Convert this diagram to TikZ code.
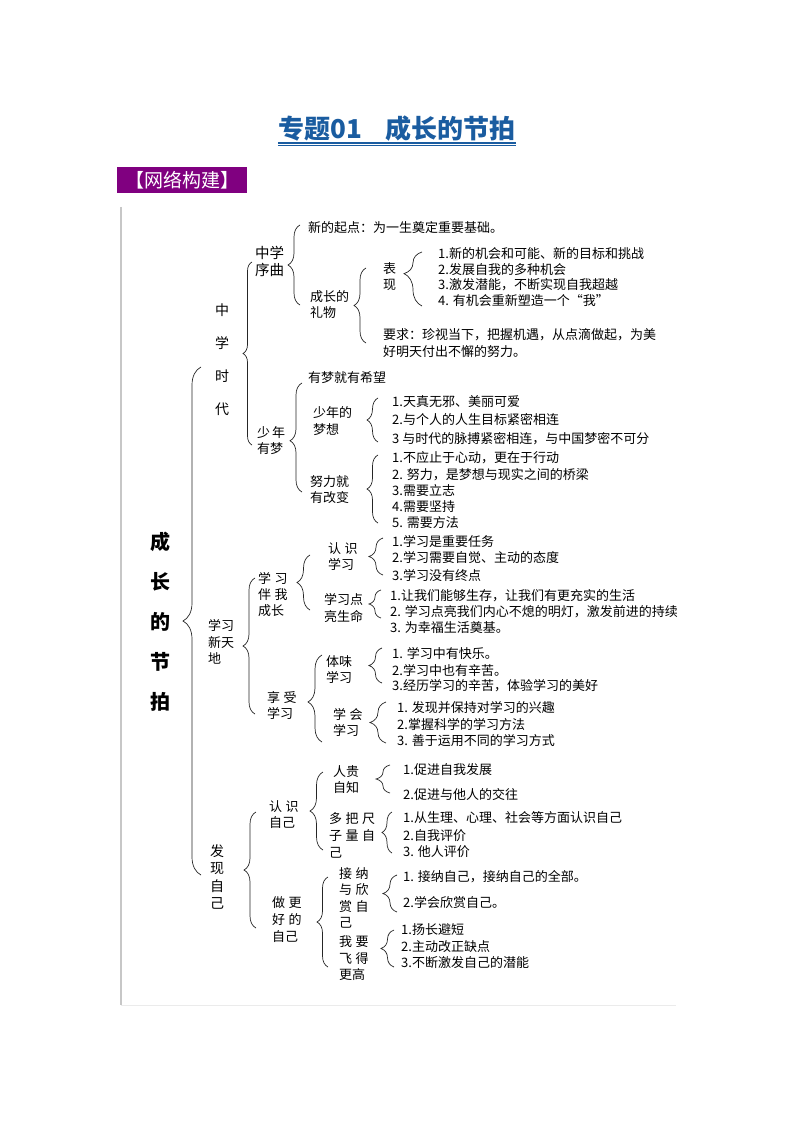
\documentclass[tikz,border=0pt]{standalone}
\usepackage{fontspec}
\setmainfont{Noto Sans CJK SC}
\usetikzlibrary{decorations.pathreplacing}
\definecolor{titleblue}{RGB}{26,92,160}
\definecolor{tagpurple}{RGB}{128,0,128}
\newcommand{\csp}{\hspace{3.5pt}}

\begin{document}
\begin{tikzpicture}[x=1pt, y=-1pt,
  curly/.style={decorate, decoration={brace, amplitude=#1}, line width=0.7pt, black!85},
  curly/.default=12,
  leaf/.style={anchor=west, inner sep=0pt, font=\fontsize{13}{15}\selectfont},
  lbl/.style={anchor=west, inner sep=0pt, align=left, font=\fontsize{13}{#1}\selectfont},
  lbl/.default=17,
  vlbl/.style={inner sep=0pt, align=center, font=\fontsize{14}{#1}\selectfont}]
  \useasboundingbox (0,0) rectangle (794,1123);

  % title and tag
  \node[inner sep=0pt, text=titleblue, font=\fontsize{26}{30}\selectfont\bfseries] (title) at (397,129) {专题01\hspace{24pt}成长的节拍};
  \draw[titleblue, line width=1.4pt] ([yshift=-4pt]title.base west) -- ([yshift=-4pt]title.base east);
  \draw[titleblue, line width=0.5pt] ([yshift=-6.5pt]title.base west) -- ([yshift=-6.5pt]title.base east);
  \node[anchor=north west, fill=tagpurple, text=white, minimum width=130pt, minimum height=26pt, inner sep=0pt, font=\fontsize{19}{22}\selectfont] (tag) at (117,167) {【网络构建】};

  % frame
  \draw[black!22, line width=1.5pt] (121,207) -- (121,1005);
  \draw[black!8, line width=0.8pt] (121,1005) -- (676,1005);

  % root
  \node[inner sep=0pt, align=center, font=\fontsize{20}{40}\selectfont\bfseries] (root) at (160,622) {成\\长\\的\\节\\拍};
  \draw[curly=18] (201,875) -- (201,367);

  % level 1
  \node[vlbl=33] (zxsd) at (222,360) {中\\学\\时\\代};
  \node[lbl=16.5] (xxxtd) at (208,642) {学习\\新天\\地};
  \node[vlbl=17.3] (fxzj) at (217,877) {发\\现\\自\\己};
  \draw[curly=9] (252,445) -- (252,262);
  \draw[curly] (255,714) -- (255,578);
  \draw[curly] (256,928) -- (256,812);

  % level 2
  \node[lbl=17, font=\fontsize{14.5}{17}\selectfont] (zxxq) at (255,261.5) {中学\\序曲};
  \node[lbl=15.5] (snym) at (257,440.5) {少\hspace{2pt}年\\有梦};
  \node[lbl=16] (xxbw) at (258,595) {学\csp 习\\伴\csp 我\\成长};
  \node[lbl=16] (xsxx) at (267,705) {享\csp 受\\学习};
  \node[lbl=16] (rszj) at (269,815) {认\csp 识\\自己};
  \node[lbl=17] (zghd) at (272,920) {做\csp 更\\好\csp 的\\自己};
  \draw[curly] (300,305) -- (300,225);
  \draw[curly, decoration={aspect=0.47}] (302,492) -- (302,383);
  \draw[curly=13] (310,610) -- (310,555);
  \draw[curly=14, decoration={aspect=0.46}] (322,742) -- (322,655);
  \draw[curly=13] (323,850) -- (323,772);
  \draw[curly=11] (328,967) -- (328,877);

  % level 3
  \node[leaf] (qd) at (308,228) {新的起点：为一生奠定重要基础。};
  \node[lbl=16] (lw) at (310,305) {成长的\\礼物};
  \node[leaf] (yxs) at (308,378) {有梦就有希望};
  \node[lbl=17] (mx) at (313,421.5) {少年的\\梦想};
  \node[lbl=15.5] (nl) at (310,489.5) {努力就\\有改变};
  \node[lbl=16] (rsxx) at (328,557) {认\csp 识\\学习};
  \node[lbl=17] (ldsm) at (324,608.5) {学习点\\亮生命};
  \node[lbl=15.5] (twxx) at (326,669.5) {体味\\学习};
  \node[lbl=15.5] (xhxx) at (333,722.5) {学\csp 会\\学习};
  \node[lbl=16] (rgzz) at (333,780) {人贵\\自知};
  \node[lbl=17] (dbcz) at (329,835) {多\csp 把\csp 尺\\子\csp 量\csp 自\\己};
  \node[lbl=16.5] (jnxs) at (339,898) {接\csp 纳\\与\csp 欣\\赏\csp 自\\己};
  \node[lbl=16.5] (wyfd) at (339,958.5) {我\csp 要\\飞\csp 得\\更高};
  \draw[curly] (366,343) -- (366,268);
  \draw[curly=11] (378,442) -- (378,398);
  \draw[curly=11] (378,523) -- (378,455);
  \draw[curly=14] (383,575) -- (383,538);
  \draw[curly] (381,618) -- (381,590);
  \draw[curly=13] (382,683) -- (382,648);
  \draw[curly=16] (386,743) -- (386,702);
  \draw[curly=14] (390,793) -- (390,765);
  \draw[curly=10] (392,853) -- (392,812);
  \draw[curly=14] (397,912) -- (397,875);
  \draw[curly=13] (394,967) -- (394,930);

  % gift: 表现 / 要求
  \node[lbl=16] (bx) at (383,277) {表\\现};
  \node[lbl=17] (yq) at (383,343.5) {要求：珍视当下，把握机遇，从点滴做起，为美\\好明天付出不懈的努力。};
  \draw[curly=18, decoration={aspect=0.6}] (422,306) -- (422,252);

  % leaves
  \foreach \y/\t [count=\i] in {254/{1.新的机会和可能、新的目标和挑战}, 270/{2.发展自我的多种机会},
      285/{3.激发潜能，不断实现自我超越}, 301/{4. 有机会重新塑造一个“我”}}
    \node[leaf] (bx-\i) at (438,\y) {\t};
  \foreach \y/\t [count=\i] in {402/{1.天真无邪、美丽可爱}, 420/{2.与个人的人生目标紧密相连},
      439/{3 与时代的脉搏紧密相连，与中国梦密不可分}}
    \node[leaf] (mx-\i) at (392,\y) {\t};
  \foreach \y/\t [count=\i] in {458/{1.不应止于心动，更在于行动}, 475/{2. 努力，是梦想与现实之间的桥梁},
      491/{3.需要立志}, 507/{4.需要坚持}, 523/{5. 需要方法}}
    \node[leaf] (nl-\i) at (392,\y) {\t};
  \foreach \y/\t [count=\i] in {542/{1.学习是重要任务}, 558/{2.学习需要自觉、主动的态度}, 575/{3.学习没有终点}}
    \node[leaf] (rsxx-\i) at (392,\y) {\t};
  \foreach \y/\t [count=\i] in {596/{1.让我们能够生存，让我们有更充实的生活},
      612/{2. 学习点亮我们内心不熄的明灯，激发前进的持续}, 628/{3. 为幸福生活奠基。}}
    \node[leaf] (ldsm-\i) at (390,\y) {\t};
  \foreach \y/\t [count=\i] in {654/{1. 学习中有快乐。}, 670/{2.学习中也有辛苦。}, 686/{3.经历学习的辛苦，体验学习的美好}}
    \node[leaf] (twxx-\i) at (392,\y) {\t};
  \foreach \y/\t [count=\i] in {708/{1. 发现并保持对学习的兴趣}, 725/{2.掌握科学的学习方法}, 741/{3. 善于运用不同的学习方式}}
    \node[leaf] (xhxx-\i) at (397,\y) {\t};
  \foreach \y/\t [count=\i] in {770/{1.促进自我发展}, 795/{2.促进与他人的交往}}
    \node[leaf] (rgzz-\i) at (403,\y) {\t};
  \foreach \y/\t [count=\i] in {818/{1.从生理、心理、社会等方面认识自己}, 836/{2.自我评价}, 852/{3. 他人评价}}
    \node[leaf] (dbcz-\i) at (403,\y) {\t};
  \foreach \y/\t [count=\i] in {877/{1. 接纳自己，接纳自己的全部。}, 903/{2.学会欣赏自己。}}
    \node[leaf] (jnxs-\i) at (403,\y) {\t};
  \foreach \y/\t [count=\i] in {930/{1.扬长避短}, 947/{2.主动改正缺点}, 963/{3.不断激发自己的潜能}}
    \node[leaf] (wyfd-\i) at (401,\y) {\t};
\end{tikzpicture}
\end{document}
